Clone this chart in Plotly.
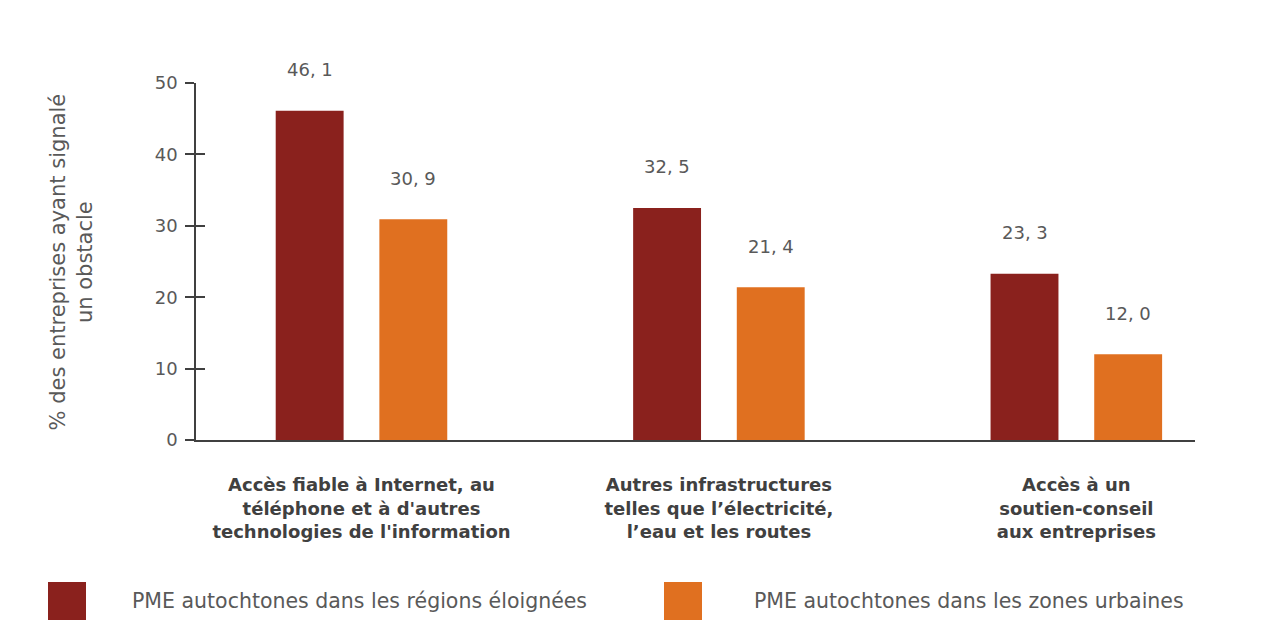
import plotly.graph_objects as go

categories = [
    "Accès fiable à Internet, au<br>téléphone et à d'autres<br>technologies de l'information",
    "Autres infrastructures<br>telles que l’électricité,<br>l’eau et les routes",
    "Accès à un<br>soutien-conseil<br>aux entreprises",
]
series_names = [
    "PME autochtones dans les régions éloignées",
    "PME autochtones dans les zones urbaines",
]
remote_values = [46.1, 32.5, 23.3]
urban_values = [30.9, 21.4, 12.0]
y_ticks = [0, 10, 20, 30, 40, 50]

colors = ["#8A211D", "#E07020"]
text_color = "#595959"
font_family = "'DejaVu Sans', sans-serif"

W, H = 1283, 641
ML, MR, MT, MB = 196, 88, 83, 201
PW = W - ML - MR
PH = H - MT - MB

def px_x(p):
    return (p - ML) / PW

def px_y(p):
    return (H - MB - p) / PH

xpos = list(range(len(categories)))
bargap = 0.42
bargroupgap = 0.345
slot = (1 - bargap) / 2
offsets = [-slot / 2, slot / 2]

fig = go.Figure()
for name, vals, col in zip(series_names, [remote_values, urban_values], colors):
    fig.add_trace(go.Bar(x=xpos, y=vals, name=name, marker=dict(color=col, line=dict(width=0)),
                         showlegend=False, hoverinfo="y"))

def fmt(v):
    return f"{v:.1f}".replace(".", ", ")

annotations = []
for vals, off in zip([remote_values, urban_values], offsets):
    for xi, v in zip(xpos, vals):
        annotations.append(dict(x=xi + off, y=v, xref="x", yref="y", text=fmt(v),
                                showarrow=False, yshift=41, yanchor="middle",
                                font=dict(size=18, color=text_color, family=font_family)))

# y-axis title
annotations.append(dict(x=px_x(71), y=0.5, xref="paper", yref="paper",
                        text="% des entreprises ayant signalé<br>un obstacle", textangle=-90,
                        showarrow=False, xanchor="center", yanchor="middle",
                        font=dict(size=21, color=text_color, family=font_family)))

# custom legend
shapes = []
legend_items = [(48, 130), (664, 752)]
for (sx, tx), name, col in zip(legend_items, series_names, colors):
    shapes.append(dict(type="rect", xref="paper", yref="paper",
                       x0=px_x(sx), x1=px_x(sx + 38), y0=px_y(620), y1=px_y(582),
                       fillcolor=col, line=dict(width=0)))
    annotations.append(dict(x=px_x(tx), y=px_y(601), xref="paper", yref="paper", text=name,
                            showarrow=False, xanchor="left", yanchor="middle",
                            font=dict(size=20.5, color=text_color, family=font_family)))

fig.update_layout(
    width=W, height=H,
    margin=dict(l=ML, r=MR, t=MT, b=MB),
    paper_bgcolor="white", plot_bgcolor="white",
    barmode="group", bargap=bargap, bargroupgap=bargroupgap,
    font=dict(family=font_family, color=text_color),
    xaxis=dict(tickvals=xpos, ticktext=[f"<b>{c}</b>" for c in categories],
               range=[-0.463, 2.332], showline=True, linecolor="#404040", linewidth=1.5,
               ticks="", showgrid=False, zeroline=False, ticklabelstandoff=28,
               tickfont=dict(size=18, color="#404040", family=font_family)),
    yaxis=dict(range=[0, 50], tickvals=y_ticks, showline=True, linecolor="#404040", linewidth=1.5,
               ticks="outside", ticklen=9, tickcolor="#404040", tickwidth=1.5,
               showgrid=False, zeroline=False, ticklabelstandoff=4,
               tickfont=dict(size=18, color=text_color, family=font_family)),
    yaxis2=dict(range=[0, 50], tickvals=y_ticks, overlaying="y", side="left", showline=False,
                ticks="inside", ticklen=9, tickcolor="#404040", tickwidth=1.5,
                showticklabels=False, showgrid=False, zeroline=False),
    annotations=annotations,
    shapes=shapes,
)
fig.add_trace(go.Scatter(x=[None], y=[None], yaxis="y2", showlegend=False, hoverinfo="skip"))

fig.write_html("out.html")
